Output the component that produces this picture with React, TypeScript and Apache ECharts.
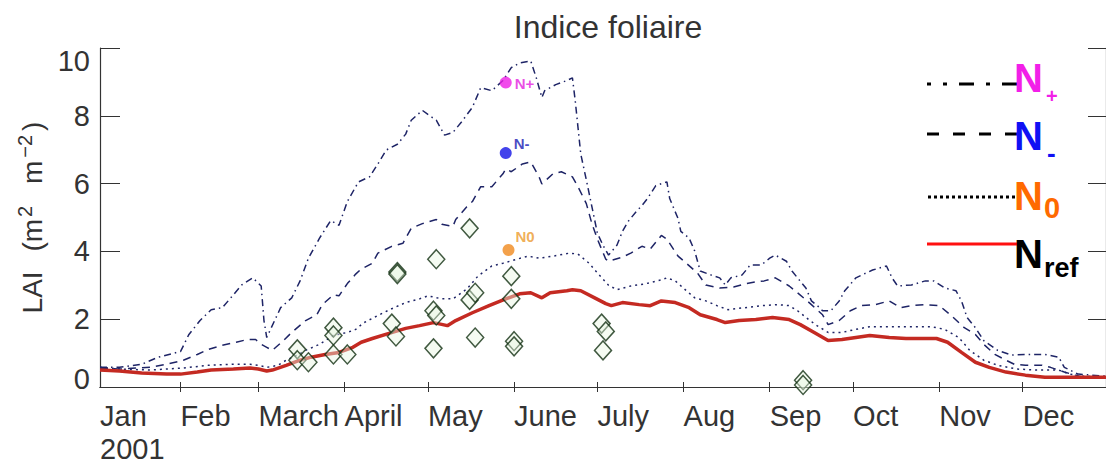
import React, { useEffect, useRef } from 'react';
import * as echarts from 'echarts';

// ---- axis definitions ----
const X_MIN = 2;
const X_MAX = 364;
const monthNames = ['Jan', 'Feb', 'March', 'April', 'May', 'June', 'July', 'Aug', 'Sep', 'Oct', 'Nov', 'Dec'];
const monthStarts = [0, 31, 59, 90, 120, 151, 181, 212, 243, 273, 304, 334];
const yearLabel = '2001';
const yTicks = [0, 2, 4, 6, 8, 10];

// ---- simulated LAI (day of year, m2 m-2) ----
const nPlus: number[][] = [
  [2, 0.58], [9, 0.58], [17, 0.67], [23, 0.88], [31, 1.05], [34, 1.55], [38, 1.96], [42, 2.28], [46, 2.34], [50, 2.72],
  [53, 3.01], [57, 3.22], [60, 2.98], [61, 1.96], [62, 1.46], [67, 2.34], [71, 2.63], [74, 3.13], [77, 3.8], [81, 4.39],
  [85, 4.91], [88, 4.77], [91, 5.47], [95, 6.05], [99, 6.2], [102, 6.58], [105, 6.99], [109, 7.16], [112, 7.46], [114, 7.87],
  [118, 8.16], [120, 8.04], [123, 7.87], [126, 7.43], [129, 7.51], [132, 7.81], [136, 8.25], [139, 8.83], [143, 8.74], [147, 9.04],
  [150, 9.42], [153, 9.56], [157, 9.62], [159, 9.12], [161, 8.54], [162, 8.74], [166, 8.92], [170, 9.04], [172, 9.12], [173, 8.45],
  [174, 7.66], [175, 6.87], [177, 6.11], [179, 5.32], [181, 4.53], [183, 4.18], [185, 3.89], [188, 4.18], [190, 4.59], [192, 4.88],
  [195, 5.18], [197, 5.35], [199, 5.56], [202, 5.94], [206, 6.05], [207, 5.56], [210, 4.97], [211, 4.59], [214, 4.39], [216, 4.01],
  [218, 3.42], [222, 3.3], [225, 3.22], [227, 3.01], [229, 3.22], [233, 3.3], [236, 3.6], [240, 3.6], [243, 3.8], [245, 3.89],
  [249, 3.71], [251, 3.42], [253, 3.22], [256, 2.92], [258, 2.54], [261, 2.34], [262, 2.25], [265, 2.25], [268, 2.54], [270, 2.84],
  [274, 3.22], [276, 3.3], [280, 3.45], [285, 3.57], [287, 3.22], [289, 2.98], [294, 3.01], [299, 3.13], [302, 3.13], [306, 2.92],
  [310, 2.84], [312, 2.54], [314, 2.05], [317, 1.75], [320, 1.37], [325, 1.08], [330, 0.94], [335, 0.96], [342, 0.96], [347, 0.88],
  [349, 0.58], [354, 0.38], [359, 0.35], [364, 0.32],
];

const nMinus: number[][] = [
  [2, 0.55], [9, 0.53], [20, 0.58], [26, 0.67], [32, 0.79], [37, 0.96], [41, 1.11], [46, 1.23], [51, 1.32], [55, 1.4],
  [58, 1.4], [60, 1.26], [62, 1.17], [64, 1.08], [68, 1.37], [71, 1.61], [76, 1.96], [80, 2.13], [82, 2.43], [86, 2.72],
  [88, 2.69], [91, 3.05], [94, 3.33], [96, 3.48], [100, 3.65], [102, 3.95], [107, 4.15], [111, 4.24], [114, 4.68], [118, 4.82],
  [123, 4.94], [125, 4.8], [129, 4.74], [130, 4.94], [134, 5.32], [136, 5.47], [139, 5.91], [143, 5.91], [147, 6.29], [148, 6.43],
  [150, 6.35], [154, 6.58], [157, 6.64], [160, 6.2], [161, 5.99], [165, 6.29], [168, 6.35], [172, 6.2], [174, 5.91], [177, 5.41],
  [179, 4.82], [181, 4.36], [184, 3.77], [185, 3.71], [190, 3.83], [193, 3.95], [197, 4.15], [200, 4.07], [204, 4.47], [206, 4.36],
  [210, 3.86], [213, 3.65], [217, 3.36], [220, 3.01], [225, 2.92], [230, 2.95], [234, 3.04], [238, 3.1], [241, 3.13], [245, 3.22],
  [250, 2.98], [253, 2.78], [258, 2.43], [262, 2.13], [264, 1.84], [268, 1.96], [272, 2.25], [276, 2.4], [281, 2.43], [286, 2.54],
  [290, 2.34], [294, 2.4], [299, 2.43], [304, 2.4], [308, 2.13], [313, 1.75], [317, 1.55], [320, 1.26], [324, 0.96], [328, 0.79],
  [331, 0.67], [335, 0.64], [341, 0.64], [344, 0.58], [349, 0.44], [353, 0.35], [356, 0.29], [364, 0.26],
];

const nZero: number[][] = [
  [2, 0.58], [9, 0.53], [20, 0.5], [32, 0.56], [41, 0.64], [50, 0.67], [56, 0.67], [59, 0.64], [62, 0.58], [66, 0.64],
  [69, 0.79], [73, 0.94], [76, 1.08], [81, 1.26], [86, 1.52], [91, 1.61], [94, 1.7], [97, 1.9], [102, 2.11], [107, 2.31],
  [112, 2.49], [117, 2.6], [120, 2.69], [125, 2.6], [129, 2.6], [134, 2.89], [138, 3.27], [143, 3.57], [147, 3.65], [152, 3.77],
  [156, 3.86], [160, 3.8], [165, 3.86], [171, 3.95], [174, 3.92], [178, 3.65], [181, 3.36], [185, 3.0], [188, 2.87], [193, 2.98],
  [198, 3.04], [204, 3.16], [206, 3.22], [209, 3.13], [213, 2.84], [216, 2.63], [220, 2.54], [224, 2.4], [228, 2.28], [234, 2.34],
  [240, 2.4], [246, 2.43], [250, 2.4], [253, 2.25], [257, 1.99], [260, 1.81], [264, 1.61], [269, 1.61], [274, 1.7], [279, 1.78],
  [286, 1.78], [294, 1.78], [301, 1.78], [306, 1.7], [311, 1.46], [315, 1.08], [320, 0.79], [325, 0.64], [332, 0.53], [339, 0.5],
  [347, 0.5], [351, 0.38], [356, 0.32], [364, 0.29],
];

const nRef: number[][] = [
  [2, 0.5], [9, 0.47], [17, 0.41], [26, 0.38], [31, 0.38], [37, 0.44], [42, 0.5], [50, 0.53], [56, 0.56], [59, 0.53],
  [62, 0.47], [64, 0.5], [69, 0.64], [74, 0.79], [78, 0.88], [83, 0.96], [88, 1.02], [93, 1.17], [96, 1.32], [100, 1.43],
  [106, 1.58], [112, 1.73], [117, 1.81], [122, 1.9], [127, 1.81], [130, 1.96], [136, 2.19], [142, 2.4], [148, 2.6], [153, 2.75],
  [157, 2.78], [161, 2.63], [164, 2.78], [170, 2.84], [172, 2.87], [175, 2.84], [180, 2.63], [184, 2.46], [186, 2.4], [190, 2.49],
  [196, 2.43], [200, 2.4], [204, 2.54], [209, 2.49], [214, 2.34], [218, 2.13], [224, 1.99], [227, 1.9], [232, 1.96], [238, 1.99],
  [244, 2.05], [250, 1.99], [254, 1.84], [259, 1.61], [264, 1.37], [269, 1.4], [274, 1.46], [279, 1.52], [286, 1.46], [292, 1.43],
  [297, 1.43], [303, 1.43], [307, 1.32], [312, 1.02], [317, 0.73], [322, 0.58], [328, 0.44], [335, 0.35], [342, 0.29], [351, 0.29],
  [364, 0.29],
];

// ---- field observations (diamonds) ----
const obsDays = [73, 73, 77, 86, 86, 86, 91, 107, 108.5, 109, 109, 123, 122, 123, 122, 135, 135, 137, 137, 150, 150, 151, 151, 182.5, 184, 183, 255, 255];
const obsLai = [1.11, 0.79, 0.73, 1.75, 1.52, 0.96, 0.96, 1.87, 1.49, 3.39, 3.33, 3.77, 2.25, 2.11, 1.14, 4.68, 2.57, 2.78, 1.46, 3.27, 2.6, 1.35, 1.2, 1.87, 1.64, 1.08, 0.2, 0.06];

// ---- peak markers ----
const markLabels = ['N+', 'N-', 'N0'];
const markDays = [148, 148, 149];
const markLai = [8.98, 6.9, 4.04];

const NARROW = "'Liberation Sans Narrow', 'Liberation Sans', Arial, sans-serif";
const SANS = "'Liberation Sans', Arial, sans-serif";
const NAVY = '#1e2466';
const INK = '#333';

export default function App() {
  const ref = useRef<HTMLDivElement>(null);
  useEffect(() => {
    const chart = echarts.init(ref.current!, null, { renderer: 'svg' });
    const labelValues = monthStarts.map((d) => Math.max(d, X_MIN));
    const markColors = ['#ee1ee6', '#1414e6', '#f08a1e'];
    const markTextColors = ['#e41ede', '#1a1ab4', '#ec9a2e'];
    const markOffsets = [[15, -1], [14, -11], [13, -15]];

    const lineSeries = (name: string, data: number[][], type: any, color: string, width: number, z: number) => ({
      name,
      type: 'line',
      data,
      showSymbol: false,
      symbol: 'none',
      z,
      lineStyle: { color, width, type },
      emphasis: { disabled: true },
    });

    const txt = (x: number, y: number, text: string, size: number, fill: string) => ({
      type: 'text',
      x,
      y,
      z: 10,
      style: {
        text,
        font: 'bold ' + size + 'px ' + SANS,
        fill,
        textAlign: 'left',
        textVerticalAlign: 'middle',
        align: 'left',
        verticalAlign: 'middle',
      },
    });

    const option: any = {
      animation: false,
      backgroundColor: '#ffffff',
      title: {
        text: 'Indice foliaire',
        left: 603,
        textAlign: 'center',
        top: 6,
        textStyle: { fontFamily: SANS, fontSize: 32, fontWeight: 'normal', color: INK },
      },
      grid: { left: 100, right: -2, top: 48, bottom: 75 },
      xAxis: [
        {
          type: 'value',
          min: X_MIN,
          max: X_MAX,
          position: 'bottom',
          axisLine: { show: true, lineStyle: { color: INK, width: 1.2 } },
          axisTick: { show: true, inside: true, length: 5, customValues: monthStarts.slice(1), lineStyle: { color: INK } },
          axisLabel: {
            customValues: labelValues,
            formatter: (v: number) => {
              const i = labelValues.indexOf(v);
              if (i < 0) return '';
              return i === 0 ? monthNames[0] + '\n' + yearLabel : monthNames[i];
            },
            align: 'left',
            margin: 12,
            fontFamily: NARROW,
            fontSize: 29,
            lineHeight: 33,
            color: INK,
          },
          splitLine: { show: false },
        },
        {
          type: 'value',
          min: X_MIN,
          max: X_MAX,
          position: 'top',
          axisLine: { show: true, lineStyle: { color: INK, width: 1.2 } },
          axisTick: { show: true, inside: true, length: 5, customValues: monthStarts.slice(1), lineStyle: { color: INK } },
          axisLabel: { show: false },
          splitLine: { show: false },
        },
      ],
      yAxis: [
        {
          type: 'value',
          min: 0,
          max: 10,
          interval: 2,
          position: 'left',
          name: '{a|LAI }{p|(m}{s|2}{q| m}{t|−2}{a|)}',
          nameLocation: 'middle',
          nameRotate: 90,
          nameGap: 52,
          nameTextStyle: {
            rich: {
              a: { fontFamily: NARROW, fontSize: 28, color: INK, lineHeight: 32, verticalAlign: 'bottom' },
              p: { fontFamily: NARROW, fontSize: 28, color: INK, lineHeight: 32, verticalAlign: 'bottom', padding: [0, 0, 0, 12] },
              q: { fontFamily: NARROW, fontSize: 28, color: INK, lineHeight: 32, verticalAlign: 'bottom', padding: [0, 0, 0, 10] },
              s: { fontFamily: SANS, fontSize: 20, color: INK, lineHeight: 20, verticalAlign: 'top', padding: [0, 4, 0, 2] },
              t: { fontFamily: SANS, fontSize: 20, color: INK, lineHeight: 20, verticalAlign: 'top', padding: [0, 4, 0, 3] },
            },
          },
          axisLine: { show: true, lineStyle: { color: INK, width: 1.2 } },
          axisTick: { show: true, inside: true, length: 20, lineStyle: { color: INK } },
          axisLabel: {
            margin: 10,
            fontFamily: NARROW,
            fontSize: 29,
            color: INK,
            formatter: (v: number) => (v === yTicks[yTicks.length - 1] ? '{hi|' + v + '}' : v === yTicks[0] ? '{lo|' + v + '}' : String(v)),
            rich: {
              hi: { fontFamily: NARROW, fontSize: 29, color: INK, padding: [26, 0, 0, 0] },
              lo: { fontFamily: NARROW, fontSize: 29, color: INK, padding: [0, 0, 16, 0] },
            },
          },
          splitLine: { show: false },
        },
        {
          type: 'value',
          min: 0,
          max: 10,
          interval: 2,
          position: 'right',
          axisLine: { show: true, lineStyle: { color: INK, width: 1.2 } },
          axisTick: { show: true, inside: true, length: 18, lineStyle: { color: INK } },
          axisLabel: { show: false },
          splitLine: { show: false },
        },
      ],
      series: [
        lineSeries('N+', nPlus, [7, 4, 1.5, 4], NAVY, 1.5, 3),
        lineSeries('N-', nMinus, [8, 6], NAVY, 1.5, 3),
        lineSeries('N0', nZero, [2, 4], NAVY, 1.5, 3),
        lineSeries('Nref', nRef, 'solid', '#c42a22', 3.5, 4),
        {
          name: 'Observations',
          type: 'scatter',
          symbol: 'diamond',
          symbolSize: [17, 19],
          z: 5,
          data: obsDays.map((d, i) => [d, obsLai[i]]),
          itemStyle: { color: 'rgba(232,246,226,0.55)', borderColor: '#123012', borderWidth: 1.5 },
          emphasis: { disabled: true },
        },
        {
          name: 'Markers',
          type: 'scatter',
          symbol: 'circle',
          symbolSize: 12,
          z: 6,
          data: markDays.map((d, i) => ({
            value: [d, markLai[i]],
            itemStyle: { color: markColors[i] },
            label: {
              show: true,
              formatter: markLabels[i],
              position: markOffsets[i],
              align: 'left',
              verticalAlign: 'top',
              color: markTextColors[i],
              fontFamily: NARROW,
              fontWeight: 'bold',
              fontSize: 15,
            },
          })),
          emphasis: { disabled: true },
        },
      ],
      graphic: [
        // legend lines
        { type: 'line', shape: { x1: 927, y1: 84, x2: 1017, y2: 84 }, style: { stroke: '#000', lineWidth: 3, lineDash: [15, 12, 4, 12], lineDashOffset: 11 } },
        { type: 'line', shape: { x1: 927, y1: 134, x2: 1017, y2: 134 }, style: { stroke: '#000', lineWidth: 3, lineDash: [12, 14] } },
        { type: 'line', shape: { x1: 928, y1: 197, x2: 1017, y2: 197 }, style: { stroke: '#000', lineWidth: 3, lineDash: [3, 3] } },
        { type: 'line', shape: { x1: 927, y1: 244, x2: 1017, y2: 244 }, style: { stroke: '#ff1010', lineWidth: 3 } },
        // legend labels
        txt(1014, 78, 'N', 40, '#f21fe8'),
        txt(1046, 96, '+', 20, '#f21fe8'),
        txt(1014, 136, 'N', 40, '#1010f4'),
        txt(1047, 153, '-', 26, '#1010f4'),
        txt(1014, 196, 'N', 40, '#ff6a00'),
        txt(1044, 208, '0', 29, '#ff6a00'),
        txt(1014, 254, 'N', 40, '#000'),
        txt(1044, 268, 'ref', 27, '#000'),
      ],
    };
    chart.setOption(option);
    return () => chart.dispose();
  }, []);
  return (
    <div
      ref={ref}
      style={{ position: 'fixed', left: 0, top: 0, width: 1106, height: 465, background: '#fff' }}
    />
  );
}
